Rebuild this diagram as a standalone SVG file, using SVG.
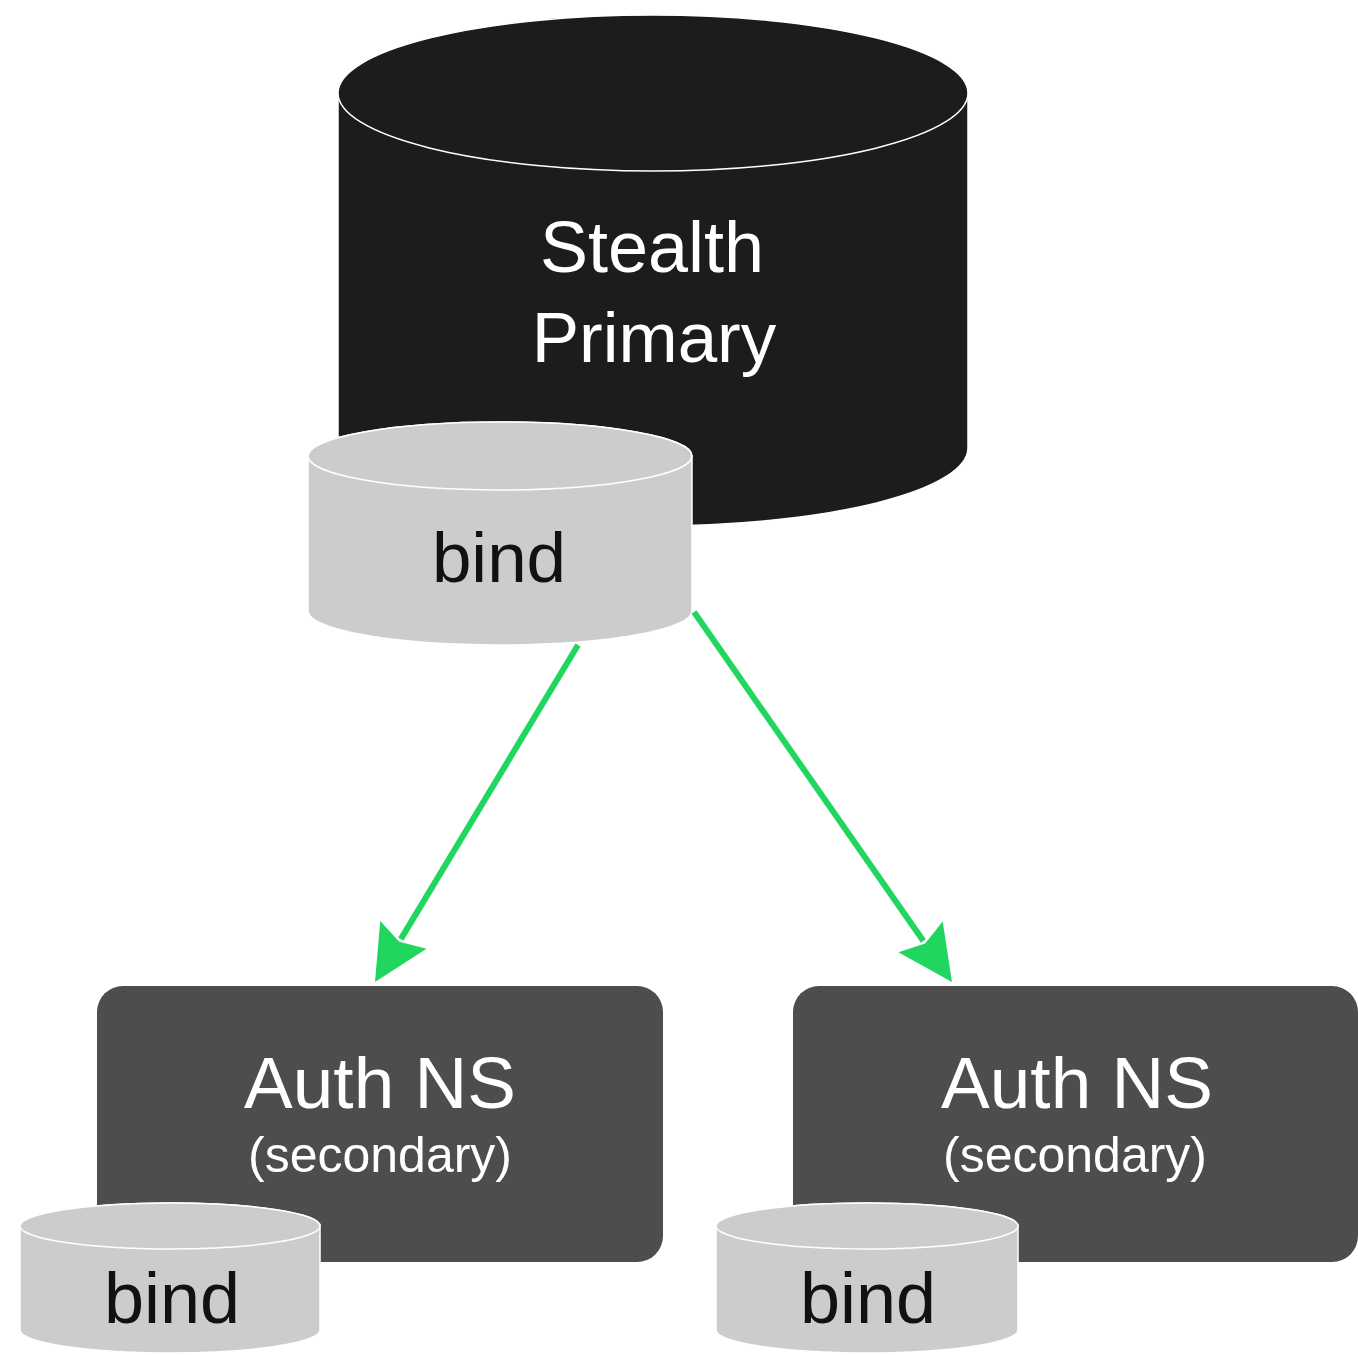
<svg xmlns="http://www.w3.org/2000/svg" width="1358" height="1355" viewBox="0 0 1358 1355">
<defs>
<style>
.dark{fill:#1c1c1c;stroke:#ffffff;stroke-width:1.5}
.light{fill:#cccccc;stroke:#ffffff;stroke-width:1.5}
.box{fill:#4d4d4d}
.t{font-family:"Liberation Sans",Arial,sans-serif;text-anchor:middle}
.w{fill:#ffffff}
.k{fill:#111111}
.conn{stroke:#21d65f;stroke-width:6;fill:none}
</style>
<marker id="ah" markerUnits="userSpaceOnUse" markerWidth="60" markerHeight="60" refX="5" refY="0" orient="auto" overflow="visible">
<path d="M0,-27 L55,0 L0,27 L8,0 Z" fill="#21d65f"/>
</marker>
</defs>
<g id="stealth-primary">
<path class="dark" d="M338,93 L338,448 A315,78 0 0 0 968,448 L968,93 A315,78 0 0 0 338,93 Z"/>
<ellipse class="dark" cx="653" cy="93" rx="315" ry="78"/>
<text class="t w" x="652" y="272" font-size="72">Stealth</text>
<text class="t w" x="654" y="362" font-size="71">Primary</text>
</g>
<g id="bind-primary">
<path class="light" d="M308,456 L308,611 A192,34 0 0 0 692,611 L692,456 A192,34 0 0 0 308,456 Z"/>
<ellipse class="light" cx="500" cy="456" rx="192" ry="34"/>
<text class="t k" x="499" y="582" font-size="71">bind</text>
</g>
<g id="connectors">
<path class="conn" d="M578,645 L400.8,939.1" marker-end="url(#ah)"/>
<path class="conn" d="M694,612 L923.4,941" marker-end="url(#ah)"/>
</g>
<g id="auth-ns-left">
<rect class="box" x="97" y="986" width="566" height="276" rx="26"/>
<text class="t w" x="380" y="1108" font-size="73">Auth NS</text>
<text class="t w" x="380" y="1172" font-size="50">(secondary)</text>
</g>
<g id="auth-ns-right">
<rect class="box" x="793" y="986" width="565" height="276" rx="26"/>
<text class="t w" x="1077" y="1108" font-size="73">Auth NS</text>
<text class="t w" x="1075" y="1172" font-size="50">(secondary)</text>
</g>
<g id="bind-left">
<path class="light" d="M20,1226 L20,1330 A150,23 0 0 0 320,1330 L320,1226 A150,23 0 0 0 20,1226 Z"/>
<ellipse class="light" cx="170" cy="1226" rx="150" ry="23"/>
<text class="t k" x="172" y="1323" font-size="72">bind</text>
</g>
<g id="bind-right">
<path class="light" d="M716,1226 L716,1330 A151,23 0 0 0 1018,1330 L1018,1226 A151,23 0 0 0 716,1226 Z"/>
<ellipse class="light" cx="867" cy="1226" rx="151" ry="23"/>
<text class="t k" x="868" y="1323" font-size="72">bind</text>
</g>
</svg>
